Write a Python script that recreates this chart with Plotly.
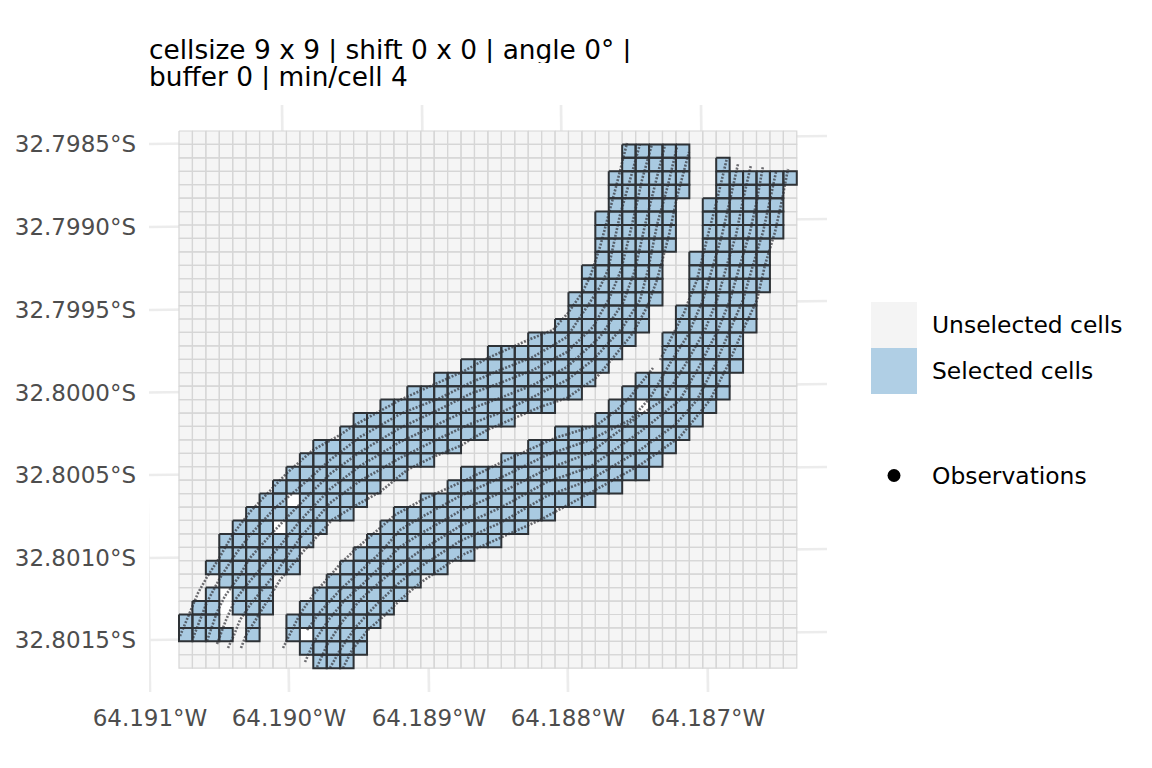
import plotly.graph_objs as go

# grid of cells, in local map units (southing grows downwards)
n_cols = 46
n_rows = 40
grid_x0 = 179
grid_y0 = 131
cell = 13.43

# selected cells, one run per row: row, first column, last column
sel_row = [1, 2, 3, 4, 5, 6, 7, 8, 9, 10, 11, 12, 13, 14, 15, 16, 17, 18, 19, 20, 21, 22, 23, 24, 25, 26,
           27, 27, 28, 29, 29, 30, 31, 32, 33, 34, 34, 35, 35, 36, 36, 37, 37,
           2, 3, 4, 5, 6, 7, 8, 9, 10, 11, 12, 13, 14, 15, 16, 17, 18, 19, 20, 20, 21, 22, 23, 24, 25, 26,
           27, 28, 29, 30, 31, 32, 33, 34, 35, 36, 37, 37, 38, 39]
sel_first = [33, 33, 32, 32, 32, 31, 31, 31, 31, 30, 30, 29, 29, 28, 26, 23, 21, 19, 17, 15, 13, 12, 10, 9, 8, 7,
             6, 9, 5, 4, 8, 3, 3, 2, 3, 2, 4, 1, 4, 0, 5, 0, 5,
             40, 40, 40, 39, 39, 39, 39, 38, 38, 38, 38, 37, 37, 36, 36, 36, 34, 33, 32, 35, 31, 28, 26, 24, 21, 20,
             18, 16, 15, 14, 13, 12, 11, 10, 9, 8, 8, 10, 9, 10]
sel_last = [37, 37, 37, 37, 36, 36, 36, 36, 35, 35, 35, 35, 34, 34, 33, 32, 31, 30, 29, 27, 24, 22, 20, 18, 16, 14,
            7, 13, 12, 6, 10, 9, 8, 8, 6, 2, 6, 2, 6, 2, 5, 3, 5,
            40, 45, 44, 44, 44, 44, 43, 43, 43, 43, 42, 42, 42, 41, 41, 41, 40, 40, 33, 39, 38, 37, 36, 35, 34, 32,
            30, 27, 25, 23, 21, 19, 17, 16, 15, 14, 8, 13, 13, 12]

# cells left empty inside the strip
hole_row = [34, 35, 29, 27, 37, 20]
hole_col = [3, 3, 7, 8, 9, 34]

# observation tracks
a1_x = [180, 192, 198, 207, 218, 233, 250, 265, 287, 313, 340, 353, 381, 400, 433, 462, 488, 528, 553, 568, 582, 590, 600, 610, 617, 627]
a1_y = [636, 608, 593, 577, 560, 534, 512, 496, 473, 450, 435, 426, 410, 400, 385, 372, 358, 340, 330, 313, 293, 277, 247, 210, 183, 143]
a2_x = [193, 207, 220, 235, 250, 275, 300, 330, 360, 400, 440, 470, 500, 533, 567, 585, 600, 608, 620, 630, 640]
a2_y = [638, 602, 578, 555, 535, 508, 487, 460, 437, 414, 398, 383, 370, 357, 337, 310, 287, 270, 215, 180, 144]
a3_x = [207, 217, 225, 238, 250, 275, 300, 330, 360, 400, 440, 470, 500, 533, 567, 593, 610, 621, 632, 642, 652]
a3_y = [641, 612, 596, 578, 558, 530, 504, 474, 452, 428, 409, 394, 383, 370, 352, 327, 297, 270, 225, 180, 144]
a4_x = [217, 226, 235, 250, 275, 300, 330, 360, 400, 440, 470, 500, 533, 567, 600, 623, 635, 645, 655, 665]
a4_y = [644, 620, 600, 581, 552, 521, 489, 466, 442, 423, 409, 398, 385, 367, 337, 303, 270, 225, 185, 145]
a5_x = [228, 234, 240, 250, 275, 300, 330, 360, 400, 440, 470, 500, 533, 567, 593, 623, 640, 648, 657, 668, 677]
a5_y = [648, 635, 620, 605, 574, 538, 503, 481, 458, 438, 424, 413, 397, 380, 360, 327, 300, 270, 225, 185, 147]
a6_x = [241, 246, 255, 270, 280, 302, 332, 353, 380, 407, 433, 460, 487, 517, 540, 567, 597, 617, 633, 647, 657, 669, 677, 689]
a6_y = [648, 635, 621, 597, 580, 553, 520, 507, 492, 470, 457, 446, 430, 417, 407, 398, 377, 353, 333, 307, 280, 235, 197, 152]

b1_x = [283, 288, 300, 313, 327, 342, 357, 380, 395, 422, 448, 470, 502, 528, 555, 597, 617, 630, 653]
b1_y = [648, 638, 614, 595, 579, 562, 548, 528, 515, 500, 488, 478, 462, 450, 438, 425, 410, 397, 368]
b0_x = [660, 673, 684, 690, 697, 708, 717, 727]
b0_y = [360, 335, 313, 297, 280, 235, 200, 158]
b2_x = [307, 320, 340, 360, 380, 400, 420, 460, 500, 547, 590, 630, 650, 672, 688, 703, 713, 722, 730, 738]
b2_y = [630, 612, 590, 572, 553, 530, 518, 496, 478, 455, 440, 420, 398, 360, 335, 300, 265, 235, 200, 164]
b3_x = [305, 315, 330, 345, 365, 400, 420, 460, 500, 547, 590, 640, 663, 685, 705, 717, 727, 736, 743, 751]
b3_y = [662, 640, 618, 600, 582, 547, 534, 511, 493, 469, 453, 415, 400, 365, 330, 300, 265, 235, 200, 165]
b4_x = [317, 327, 342, 360, 380, 400, 420, 460, 500, 547, 590, 640, 680, 700, 718, 730, 740, 750, 757, 763]
b4_y = [667, 645, 622, 600, 582, 565, 551, 526, 508, 482, 467, 432, 400, 365, 330, 300, 265, 232, 200, 166]
b5_x = [330, 340, 355, 375, 400, 420, 460, 500, 547, 590, 640, 675, 697, 715, 730, 743, 753, 763, 770, 776]
b5_y = [668, 650, 628, 606, 582, 567, 541, 523, 496, 480, 450, 425, 400, 365, 330, 300, 265, 232, 200, 172]
b6_x = [343, 352, 368, 385, 400, 420, 460, 500, 540, 590, 640, 680, 710, 728, 743, 757, 765, 775, 782, 788]
b6_y = [668, 650, 630, 615, 600, 583, 556, 538, 520, 493, 465, 437, 400, 365, 330, 300, 265, 232, 200, 169]

tracks = [(a1_x, a1_y), (a2_x, a2_y), (a3_x, a3_y), (a4_x, a4_y), (a5_x, a5_y), (a6_x, a6_y),
          (b1_x, b1_y), (b0_x, b0_y), (b2_x, b2_y), (b3_x, b3_y), (b4_x, b4_y), (b5_x, b5_y), (b6_x, b6_y)]

# graticule, slightly tilted against the map units
lon_labels = ['64.191°W', '64.190°W', '64.189°W', '64.188°W', '64.187°W']
lon_bottom = [150, 289, 429, 568, 708]
lon_top = [143, 282, 422, 561, 701]
lat_labels = ['32.7985°S', '32.7990°S', '32.7995°S', '32.8000°S', '32.8005°S', '32.8010°S', '32.8015°S']
lat_left = [144, 227, 310, 392.5, 475, 558, 640]
lat_right = [136, 219, 301, 384, 467, 549, 632]

x_min, x_max = 149, 827
y_min, y_max = 105, 692

font = 'DejaVu Sans'


def cell_paths(rows, cols):
    xs, ys = [], []
    for r, c in zip(rows, cols):
        x0 = grid_x0 + c * cell
        y0 = grid_y0 + r * cell
        xs += [x0, x0 + cell, x0 + cell, x0, x0, None]
        ys += [y0, y0, y0 + cell, y0 + cell, y0, None]
    return xs, ys


fig = go.Figure()

# graticule
gx, gy = [], []
for b, t in zip(lon_bottom, lon_top):
    gx += [b, t, None]
    gy += [y_max, y_min, None]
for l, r in zip(lat_left, lat_right):
    gx += [x_min, x_max, None]
    gy += [l, r, None]
fig.add_trace(go.Scatter(x=gx, y=gy, mode='lines', line=dict(color='#ececec', width=2.7), hoverinfo='skip'))

# all cells
all_rows = [r for r in range(n_rows) for c in range(n_cols)]
all_cols = [c for r in range(n_rows) for c in range(n_cols)]
xs, ys = cell_paths(all_rows, all_cols)
fig.add_trace(go.Scatter(x=xs, y=ys, mode='lines', fill='toself', fillcolor='#f5f5f5',
                         line=dict(color='#d6d6d6', width=1.2), hoverinfo='skip'))

# holes
xs, ys = cell_paths(hole_row, hole_col)
fig.add_trace(go.Scatter(x=xs, y=ys, mode='lines', fill='toself', fillcolor='#ffffff',
                         line=dict(color='#d6d6d6', width=1.2), hoverinfo='skip'))

# selected cells
rows, cols = [], []
for r, a, b in zip(sel_row, sel_first, sel_last):
    for c in range(a, b + 1):
        rows.append(r)
        cols.append(c)
xs, ys = cell_paths(rows, cols)
fig.add_trace(go.Scatter(x=xs, y=ys, mode='lines', fill='toself', fillcolor='#a9cae1',
                         line=dict(color='#2e3236', width=2), hoverinfo='skip'))

# observations
for tx, ty in tracks:
    fig.add_trace(go.Scatter(x=tx, y=ty, mode='lines', hoverinfo='skip',
                             line=dict(color='rgba(50,50,55,0.7)', width=2.6, dash='2px,1.5px')))

fig.update_xaxes(range=[x_min, x_max], showgrid=False, zeroline=False, showline=False,
                 tickmode='array', tickvals=lon_bottom, ticktext=lon_labels, ticks='',
                 ticklabelstandoff=10,
                 tickfont=dict(family=font, size=23, color='#4d4d4d'))
fig.update_yaxes(range=[y_max, y_min], showgrid=False, zeroline=False, showline=False,
                 tickmode='array', tickvals=lat_left, ticktext=lat_labels, ticks='',
                 ticklabelstandoff=12,
                 tickfont=dict(family=font, size=23, color='#4d4d4d'))

# the page has an 8px body margin, so the figure sits 8px in
off = 8
W, H = 1152 - off, 768 - off
L, R, T, B = x_min - off, W - (x_max - off), y_min - off, H - (y_max - off)


def px(x):
    return (x - x_min) / (x_max - x_min)


def py(y):
    return 1 - (y - y_min) / (y_max - y_min)


notes = [(149, 50, 'cellsize 9 x 9 | shift 0 x 0 | angle 0° |', 26.4),
         (149, 77, 'buffer 0 | min/cell 4', 26.4),
         (932, 325, 'Unselected cells', 23.4),
         (932, 371, 'Selected cells', 23.4),
         (932, 476, 'Observations', 23.4)]
annotations = [dict(x=px(a), y=py(b), xref='paper', yref='paper', text=t, showarrow=False,
                    xanchor='left', yanchor='middle', xshift=-2, height=26,
                    font=dict(family=font, size=s, color='black')) for a, b, t, s in notes]

shapes = [dict(type='rect', xref='paper', yref='paper', x0=px(871), x1=px(917), y0=py(302), y1=py(348),
               fillcolor='#f4f4f4', line=dict(width=0)),
          dict(type='rect', xref='paper', yref='paper', x0=px(871), x1=px(917), y0=py(348), y1=py(394),
               fillcolor='#b0cfe5', line=dict(width=0)),
          dict(type='circle', xref='paper', yref='paper', x0=px(887.5), x1=px(900.5), y0=py(469), y1=py(482),
               fillcolor='black', line=dict(width=0))]

fig.update_layout(width=W, height=H, margin=dict(l=L, r=R, t=T, b=B, autoexpand=False),
                  plot_bgcolor='white', paper_bgcolor='white', showlegend=False,
                  annotations=annotations, shapes=shapes)

fig.write_html("out.html")
